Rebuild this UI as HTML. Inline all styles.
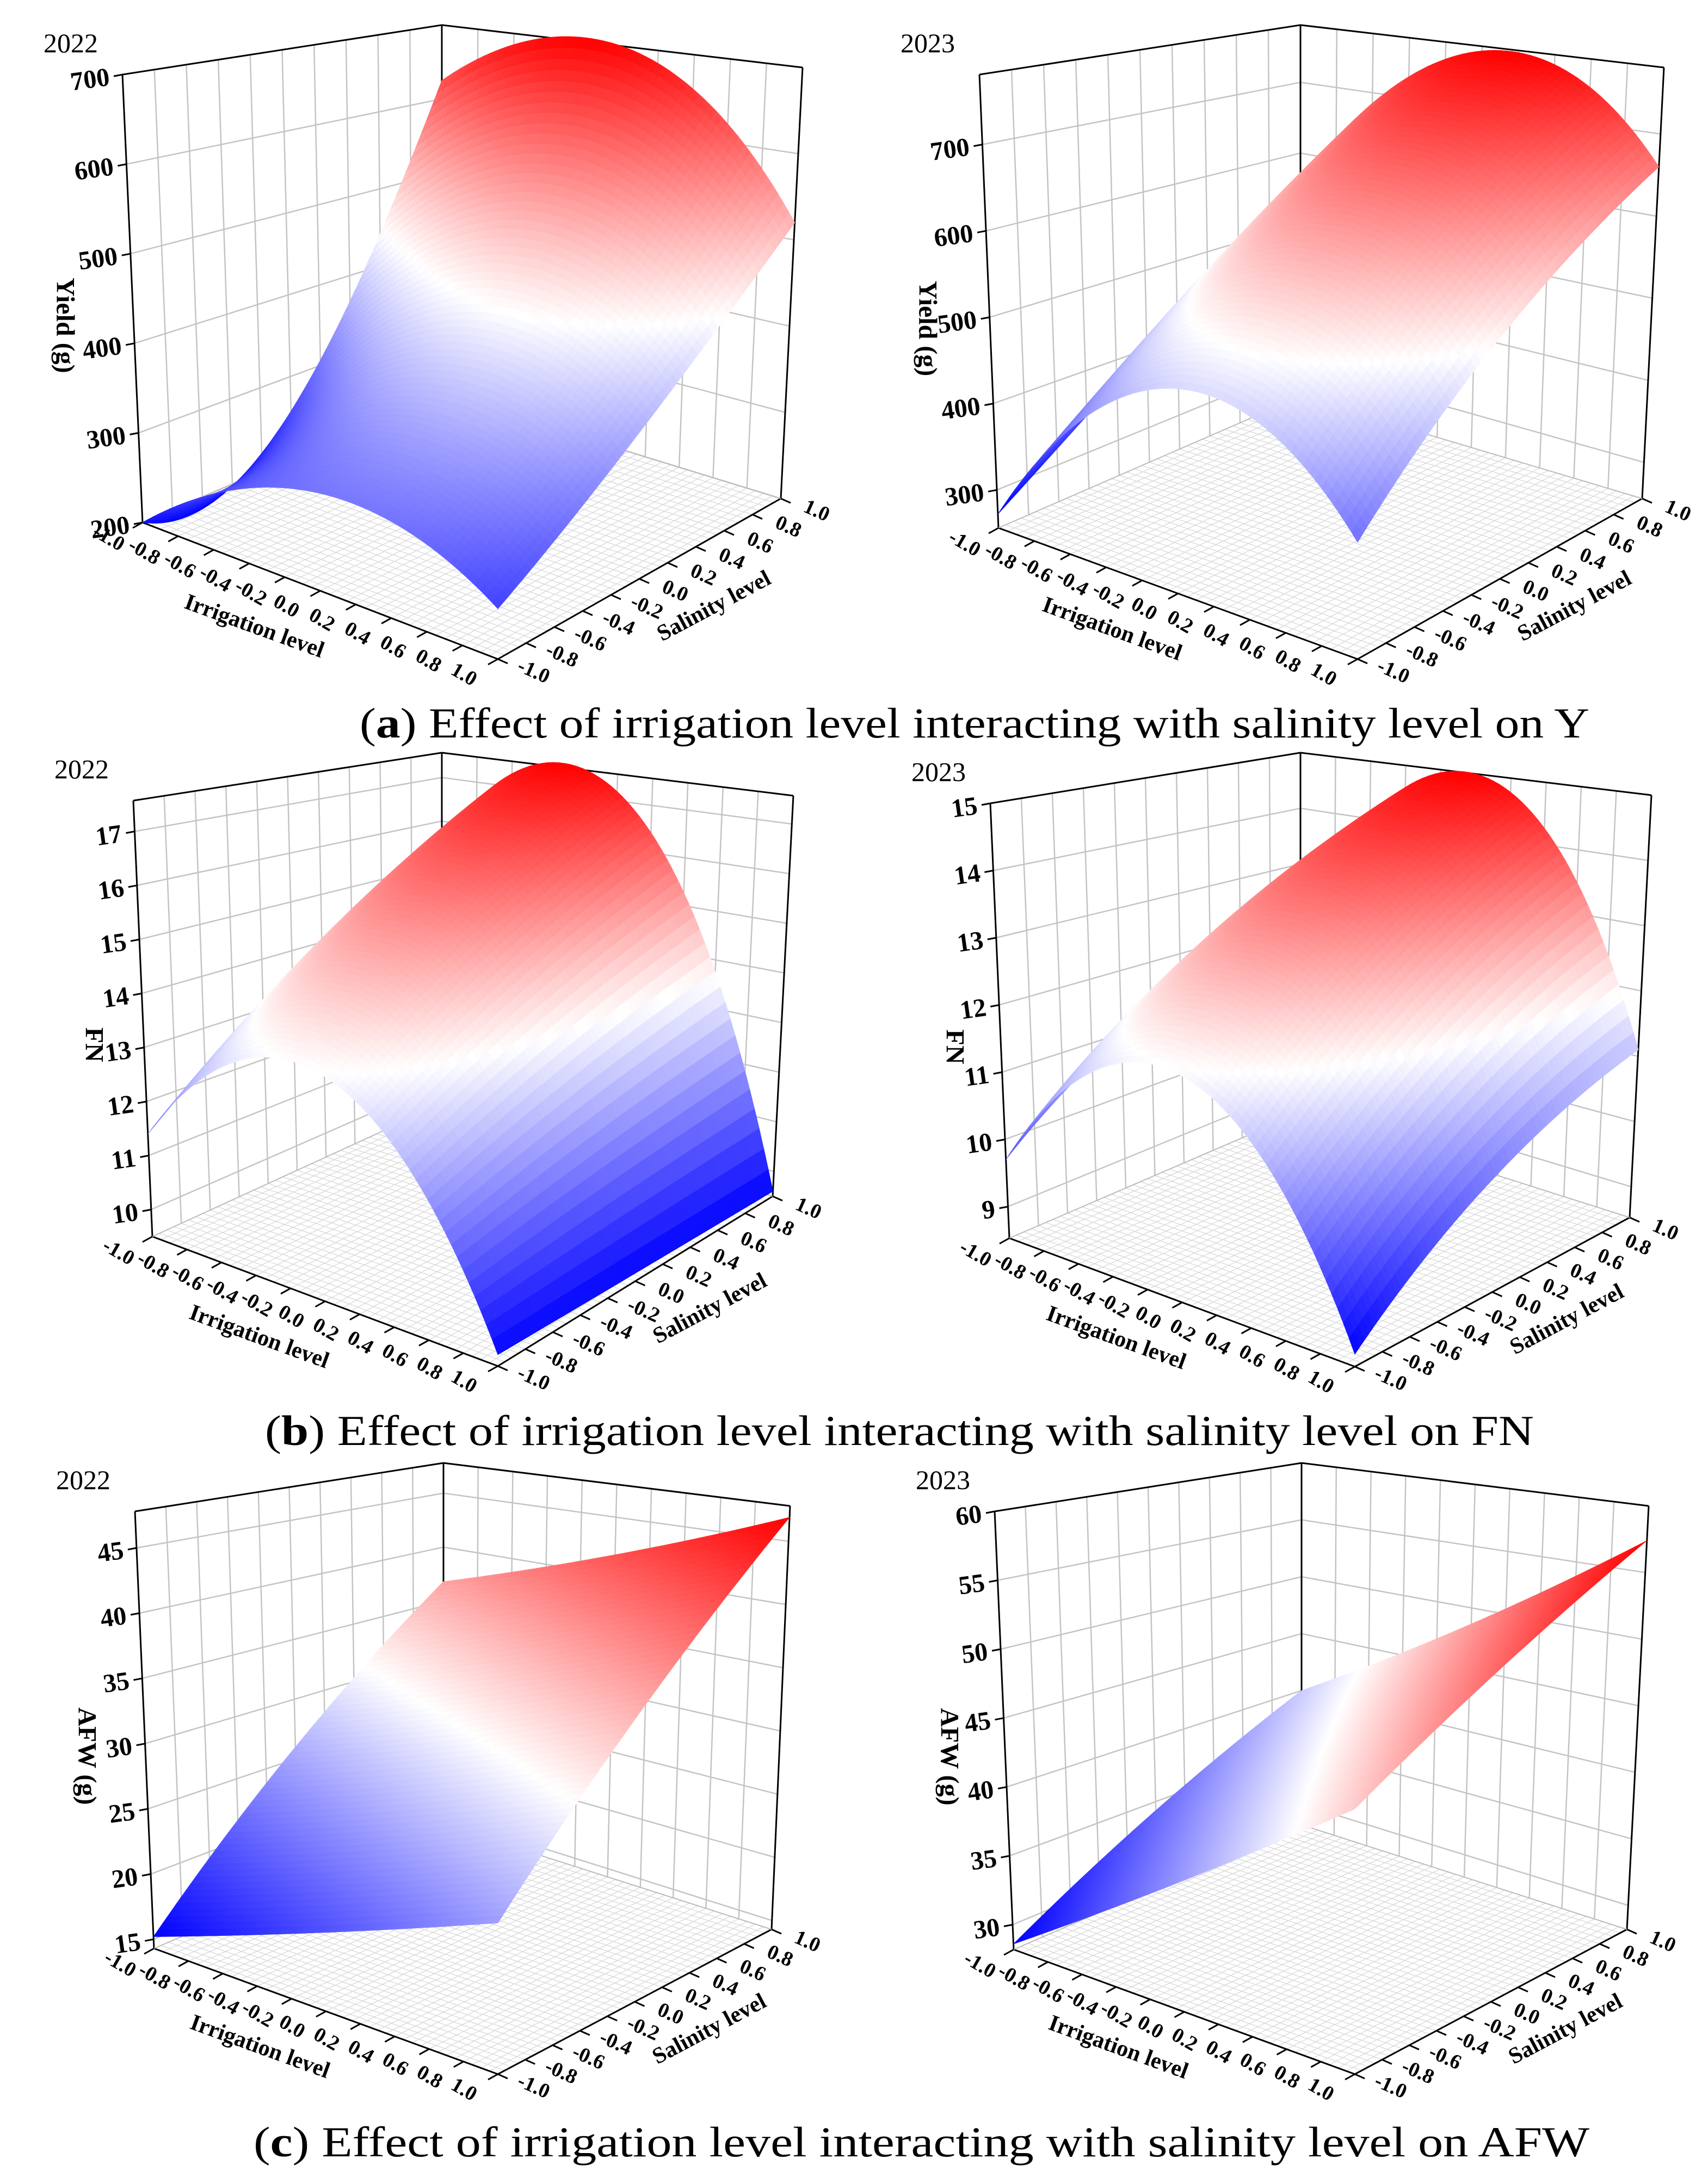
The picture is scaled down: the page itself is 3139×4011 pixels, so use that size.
<!DOCTYPE html>
<html><head><meta charset="utf-8"><style>
html,body{margin:0;padding:0;background:#fff}
svg{display:block}
text{font-family:"Liberation Serif",serif}
</style></head><body>
<svg id="fig" xmlns="http://www.w3.org/2000/svg" width="3139" height="4011" viewBox="0 0 3139 4011">
<rect width="3139" height="4011" fill="#fff"/>
<g id="plots"></g>
<text x="661" y="1355" font-size="78" textLength="2260" lengthAdjust="spacingAndGlyphs">(<tspan font-weight="bold">a</tspan>) Effect of irrigation level interacting with salinity level on Y</text>
<text x="487" y="2655" font-size="78" textLength="2332" lengthAdjust="spacingAndGlyphs">(<tspan font-weight="bold">b</tspan>) Effect of irrigation level interacting with salinity level on FN</text>
<text x="466" y="3962" font-size="78" textLength="2455" lengthAdjust="spacingAndGlyphs">(<tspan font-weight="bold">c</tspan>) Effect of irrigation level interacting with salinity level on AFW</text>
</svg>
<script>
// coded factor levels (grid nodes)
const irrigationLevels = [-1, 0, 1];
const salinityLevels = [-1, 0, 1];
// response values: rows = salinity (-1,0,1), cols = irrigation (-1,0,1)
const yield2022 = [[200, 305, 252], [258, 430, 365], [625, 700, 520]];
const yield2023 = [[272, 485, 382], [400, 640, 540], [560, 775, 660]];
const fn2022 = [[11.4, 13.6, 9.7], [13.5, 15.5, 9.65], [15.5, 17.2, 9.6]];
const fn2023 = [[9.7, 11.8, 8.7], [11.2, 13.6, 10.2], [12.0, 15.0, 11.1]];
const afw2022 = [[15.2, 20.1, 25.0], [26.0, 31.0, 36.0], [36.8, 41.8, 46.9]];
const afw2023 = [[28.6, 37.3, 46.0], [34.3, 43.0, 51.7], [40.0, 48.7, 57.4]];
// axis tick labels
const yieldTicks2022 = [200, 300, 400, 500, 600, 700];
const yieldTicks2023 = [300, 400, 500, 600, 700];
const fnTicks2022 = [10, 11, 12, 13, 14, 15, 16, 17];
const fnTicks2023 = [9, 10, 11, 12, 13, 14, 15];
const afwTicks2022 = [15, 20, 25, 30, 35, 40, 45];
const afwTicks2023 = [30, 35, 40, 45, 50, 55, 60];
const factorTicks = [-1.0, -0.8, -0.6, -0.4, -0.2, 0.0, 0.2, 0.4, 0.6, 0.8, 1.0];

const NS = 'http://www.w3.org/2000/svg';
const root = document.getElementById('plots');

const plots = [
 {key:'yield-2022', year:'2022', title:'Yield (g)', grid:yield2022, ticks:yieldTicks2022, zmin:200, zmax:700,
  LT:[225,137], BT:[812,46], RT:[1475,124], L:[262,960], F:[915,1211], R:[1435,916], toff:-105},
 {key:'yield-2023', year:'2023', title:'Yield (g)', grid:yield2023, ticks:yieldTicks2023, zmin:256, zmax:781,
  LT:[1800,137], BT:[2390,46], RT:[3058,124], L:[1835,970], F:[2495,1211], R:[3018,916], toff:-95},
 {key:'fn-2022', year:'2022', title:'FN', grid:fn2022, ticks:fnTicks2022, zmin:9.5, zmax:17.57,
  LT:[245,1471], BT:[812,1383], RT:[1458,1462], L:[280,2272], F:[915,2510], R:[1420,2198], toff:-72},
 {key:'fn-2023', year:'2023', title:'FN', grid:fn2023, ticks:fnTicks2023, zmin:8.53, zmax:15,
  LT:[1820,1476], BT:[2390,1383], RT:[3035,1461], L:[1855,2275], F:[2490,2511], R:[2995,2237], toff:-65},
 {key:'afw-2022', year:'2022', title:'AFW (g)', grid:afw2022, ticks:afwTicks2022, zmin:14.3, zmax:47.8,
  LT:[248,2777], BT:[815,2688], RT:[1452,2767], L:[283,3580], F:[915,3811], R:[1418,3545], toff:-88},
 {key:'afw-2023', year:'2023', title:'AFW (g)', grid:afw2023, ticks:afwTicks2023, zmin:28.2, zmax:60,
  LT:[1828,2777], BT:[2392,2688], RT:[3030,2767], L:[1863,3582], F:[2490,3811], R:[2990,3545], toff:-83}
];

function lag(x){ return [x*(x-1)/2, 1-x*x, x*(x+1)/2]; }
function surf(g,u,v){
  const a=lag(u), b=lag(v); let z=0;
  for(let j=0;j<3;j++) for(let i=0;i<3;i++) z+=g[j][i]*a[i]*b[j];
  return z;
}
function colorFor(t){
  t=Math.max(0,Math.min(1,t)); let r,g,b;
  if(t<0.5){ const k=t/0.5; r=Math.round(255*k); g=r; b=255; }
  else { const k=(t-0.5)/0.5; r=255; g=Math.round(255*(1-k)); b=g; }
  return 'rgb('+r+','+g+','+b+')';
}
function line(parent,p,q,stroke,w){
  const el=document.createElementNS(NS,'line');
  el.setAttribute('x1',p[0].toFixed(1)); el.setAttribute('y1',p[1].toFixed(1));
  el.setAttribute('x2',q[0].toFixed(1)); el.setAttribute('y2',q[1].toFixed(1));
  el.setAttribute('stroke',stroke); el.setAttribute('stroke-width',w);
  parent.appendChild(el); return el;
}
function text(parent,str,x,y,size,weight,rot,anchor){
  const el=document.createElementNS(NS,'text');
  el.setAttribute('x',x.toFixed(1)); el.setAttribute('y',y.toFixed(1));
  el.setAttribute('font-size',size); el.setAttribute('font-weight',weight);
  el.setAttribute('text-anchor',anchor||'middle'); el.setAttribute('dominant-baseline','central');
  if(rot) el.setAttribute('transform','rotate('+rot+' '+x.toFixed(1)+' '+y.toFixed(1)+')');
  el.textContent=str; parent.appendChild(el); return el;
}
function fmt(v){ return v.toFixed(1); }

plots.forEach(P=>{
  const H=((P.L[1]-P.LT[1])+(P.R[1]-P.RT[1]))/2;
  const B=[P.BT[0], P.BT[1]+0.84*H];
  const FT=[P.F[0], P.F[1]-1.1*H];
  function bil(c00,c10,c11,c01,s,t){
    return [c00[0]*(1-s)*(1-t)+c10[0]*s*(1-t)+c11[0]*s*t+c01[0]*(1-s)*t,
            c00[1]*(1-s)*(1-t)+c10[1]*s*(1-t)+c11[1]*s*t+c01[1]*(1-s)*t];
  }
  function proj(u,v,z){
    const s=(u+1)/2, t=(v+1)/2, w=(z-P.zmin)/(P.zmax-P.zmin);
    const f=bil(P.L,P.F,P.R,B,s,t), tp=bil(P.LT,FT,P.RT,P.BT,s,t);
    return [f[0]*(1-w)+tp[0]*w, f[1]*(1-w)+tp[1]*w];
  }
  const g=document.createElementNS(NS,'g');
  
  
  root.appendChild(g);

  const walls=document.createElementNS(NS,'g');
  
  
  g.appendChild(walls);
  factorTicks.forEach(t=>{
    line(walls,proj(-1,t,P.zmin),proj(-1,t,P.zmax),'#c4c4c4',2.5);
    line(walls,proj(t,1,P.zmin),proj(t,1,P.zmax),'#c4c4c4',2.5);
  });
  P.ticks.forEach(z=>{
    line(walls,proj(-1,-1,z),proj(-1,1,z),'#c4c4c4',2.5);
    line(walls,proj(-1,1,z),proj(1,1,z),'#c4c4c4',2.5);
  });
  const floor=document.createElementNS(NS,'g');
  
  
  g.appendChild(floor);
  for(let k=0;k<=40;k++){
    const t=-1+k*0.05;
    line(floor,proj(t,-1,P.zmin),proj(t,1,P.zmin),'#d8d8d8',1.3);
    line(floor,proj(-1,t,P.zmin),proj(1,t,P.zmin),'#d8d8d8',1.3);
  }
  const box=document.createElementNS(NS,'g');
  
  
  g.appendChild(box);
  line(box,proj(-1,-1,P.zmin),proj(-1,-1,P.zmax),'#000',3);
  line(box,proj(-1,1,P.zmin),proj(-1,1,P.zmax),'#000',3);
  line(box,proj(1,1,P.zmin),proj(1,1,P.zmax),'#000',3);
  line(box,proj(-1,-1,P.zmax),proj(-1,1,P.zmax),'#000',3);
  line(box,proj(-1,1,P.zmax),proj(1,1,P.zmax),'#000',3);
  line(box,proj(-1,-1,P.zmin),proj(1,-1,P.zmin),'#000',3);
  line(box,proj(1,-1,P.zmin),proj(1,1,P.zmin),'#000',3);
  line(box,proj(-1,1,P.zmin),proj(1,1,P.zmin),'#bbb',2);
  line(box,proj(-1,-1,P.zmin),proj(-1,1,P.zmin),'#bbb',2);

  const sg=document.createElementNS(NS,'g');
  
  
  g.appendChild(sg);
  const N=60, cells=[];
  let smin=Infinity, smax=-Infinity;
  for(let i=0;i<=N;i++) for(let j=0;j<=N;j++){
    const z=surf(P.grid,-1+2*i/N,-1+2*j/N); smin=Math.min(smin,z); smax=Math.max(smax,z);
  }
  for(let i=0;i<N;i++) for(let j=0;j<N;j++){
    const u0=-1+2*i/N,u1=-1+2*(i+1)/N,v0=-1+2*j/N,v1=-1+2*(j+1)/N;
    const zs=[surf(P.grid,u0,v0),surf(P.grid,u1,v0),surf(P.grid,u1,v1),surf(P.grid,u0,v1)];
    const pts=[proj(u0,v0,zs[0]),proj(u1,v0,zs[1]),proj(u1,v1,zs[2]),proj(u0,v1,zs[3])];
    const zc=(zs[0]+zs[1]+zs[2]+zs[3])/4;
    cells.push({d:(u0+u1)/2-(v0+v1)/2, pts, c:colorFor((zc-smin)/(smax-smin))});
  }
  cells.sort((a,b)=>a.d-b.d);
  cells.forEach(c=>{
    const el=document.createElementNS(NS,'polygon');
    
    
    el.setAttribute('points',c.pts.map(p=>p[0].toFixed(1)+','+p[1].toFixed(1)).join(' '));
    el.setAttribute('fill',c.c); el.setAttribute('stroke',c.c); el.setAttribute('stroke-width','0.8');
    sg.appendChild(el);
  });

  const zt=document.createElementNS(NS,'g');
  
  
  g.appendChild(zt);
  P.ticks.forEach(z=>{
    const p=proj(-1,-1,z);
    line(zt,p,[p[0]-16,p[1]+3],'#000',3);
    const lab=text(zt,String(z),p[0]-24,p[1]+4,48,'bold',-8,'end');
    
    
  });
  const xt=document.createElementNS(NS,'g');
  
  
  g.appendChild(xt);
  const st=document.createElementNS(NS,'g');
  
  
  g.appendChild(st);
  factorTicks.forEach(t=>{
    const p=proj(t,-1,P.zmin);
    line(xt,p,[p[0]-18,p[1]+10],'#000',3);
    const a=text(xt,fmt(t),p[0]-62,p[1]+28,38,'bold',30,'middle');
    
    
    const q=proj(1,t,P.zmin);
    line(st,q,[q[0]+18,q[1]+8],'#000',3);
    const b=text(st,fmt(t),q[0]+66,q[1]+22,38,'bold',24,'middle');
    
    
  });
  const mx=proj(0,-1,P.zmin), my=proj(1,0,P.zmin);
  const xtitle=text(g,'Irrigation level',mx[0]-121,mx[1]+65,42,'bold',20,'middle');
  
  
  const ytitle=text(g,'Salinity level',my[0]+137,my[1]+50,42,'bold',-28,'middle');
  
  
  const zc=[P.LT[0]+P.toff, P.LT[1]+(P.L[1]-P.LT[1])*0.56];
  const ztitle=text(g,P.title,zc[0],zc[1],48,'bold',90,'middle');
  
  
  const yr=text(g,P.year,P.LT[0]-95,P.LT[1]-58,50,'normal',0,'middle');
  
  
});
</script>
</body></html>
